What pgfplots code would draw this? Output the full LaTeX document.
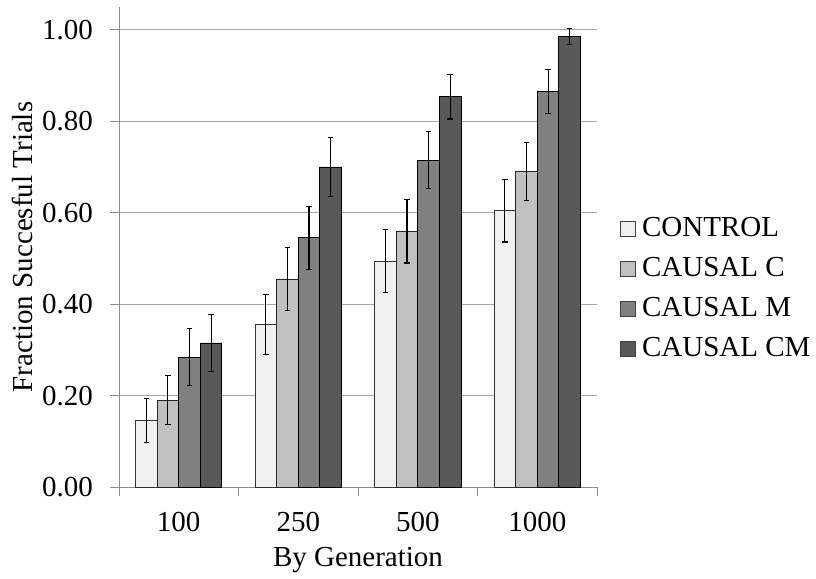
\documentclass[border=0pt]{standalone}
\usepackage{pgfplots}
\pgfplotsset{compat=1.18}
\usepackage{fontspec}
\setmainfont{Liberation Serif}
\definecolor{cA}{HTML}{F0F0F0}
\definecolor{cB}{HTML}{C0C0C0}
\definecolor{cC}{HTML}{808080}
\definecolor{cD}{HTML}{595959}
\definecolor{axgray}{HTML}{8C8C8C}
\definecolor{gridgray}{HTML}{A6A6A6}
\newcommand{\bigfont}{\fontsize{29bp}{32bp}\selectfont}
\begin{document}
\begin{tikzpicture}
\begin{axis}[
  scale only axis,
  width=478bp, height=480bp,
  xmin=-0.5, xmax=3.5,
  ymin=0, ymax=1.05,
  axis x line*=bottom, axis y line*=left,
  axis line style={axgray, line width=0.9bp},
  ybar=0pt, bar width=21.6bp,
  xtick={0,1,2,3},
  xticklabels={100,250,500,1000},
  xtick style={draw=none},
  extra x ticks={-0.5,0.5,1.5,2.5,3.5},
  extra x tick labels={},
  extra x tick style={xtick style={draw=axgray, line width=0.9bp}, major tick length=9bp, tick align=outside},
  ytick={0,0.2,0.4,0.6,0.8,1.0},
  ytick style={draw=axgray, line width=0.9bp},
  tick align=outside, major tick length=9bp,
  ymajorgrids, grid style={gridgray, line width=0.9bp},
  yticklabel style={/pgf/number format/fixed, /pgf/number format/fixed zerofill, /pgf/number format/precision=2},
  /pgf/number format/assume math mode=true,
  tick label style={font=\bigfont, text=black, inner sep=0pt},
  xticklabel style={anchor=north, yshift=-16bp},
  yticklabel style={anchor=east, xshift=-17bp},
  xlabel={By Generation},
  ylabel={Fraction Succesful Trials},
  label style={font=\bigfont, inner sep=0pt},
  xlabel style={at={(axis description cs:0.5,0)}, anchor=north, yshift=-60bp},
  ylabel style={at={(axis description cs:0,0.5)}, anchor=south, yshift=86bp},
  legend style={draw=none, fill=none, at={(1.048,0.567)}, anchor=north west,
    font=\bigfont, row sep=12bp, inner sep=0pt,
    nodes={inner sep=1bp, text height=20bp, text depth=6bp},
    legend cell align=left},
  legend image code/.code={\draw[#1, draw=black!75, line width=0.9bp] (0bp,-7.5bp) rectangle (15bp,7.5bp); \path (20bp,0bp);},
  error bars/y dir=both, error bars/y explicit,
  error bars/error bar style={black, line width=1.1bp},
  error bars/error mark options={black, line width=1.1bp, mark size=2.7bp, rotate=90},
]
\addplot[fill=cA, draw=black!80, line width=0.9bp] coordinates {
  (0,0.145) +- (0,0.048)
  (1,0.355) +- (0,0.066)
  (2,0.494) +- (0,0.069)
  (3,0.604) +- (0,0.068)
};
\addplot[fill=cB, draw=black!85, line width=0.9bp] coordinates {
  (0,0.190) +- (0,0.054)
  (1,0.455) +- (0,0.069)
  (2,0.559) +- (0,0.069)
  (3,0.690) +- (0,0.064)
};
\addplot[fill=cC, draw=black, line width=0.9bp] coordinates {
  (0,0.284) +- (0,0.062)
  (1,0.545) +- (0,0.069)
  (2,0.715) +- (0,0.063)
  (3,0.865) +- (0,0.048)
};
\addplot[fill=cD, draw=black, line width=0.9bp] coordinates {
  (0,0.315) +- (0,0.063)
  (1,0.700) +- (0,0.064)
  (2,0.854) +- (0,0.049)
  (3,0.985) +- (0,0.017)
};
\legend{CONTROL, CAUSAL C, CAUSAL M, CAUSAL CM}
\end{axis}
\pgfresetboundingbox
\path[use as bounding box] (-119bp,-92bp) rectangle (697bp,487bp);
\end{tikzpicture}
\end{document}
